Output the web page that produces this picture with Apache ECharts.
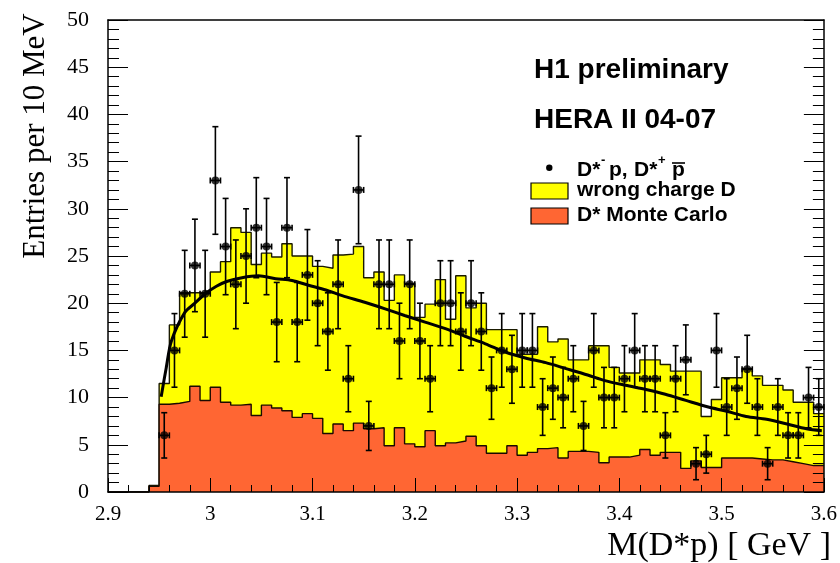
<!DOCTYPE html>
<html><head><meta charset="utf-8">
<script src="https://cdn.jsdelivr.net/npm/echarts@6/dist/echarts.min.js"></script>
<style>html,body{margin:0;padding:0;background:#fff}#c{width:840px;height:563px}</style>
</head><body><div id="c"></div>
<script>
// Bin edges in GeV (10 MeV bins)
const binEdges = [2.90,2.91,2.92,2.93,2.94,2.95,2.96,2.97,2.98,2.99,
  3.00,3.01,3.02,3.03,3.04,3.05,3.06,3.07,3.08,3.09,
  3.10,3.11,3.12,3.13,3.14,3.15,3.16,3.17,3.18,3.19,
  3.20,3.21,3.22,3.23,3.24,3.25,3.26,3.27,3.28,3.29,
  3.30,3.31,3.32,3.33,3.34,3.35,3.36,3.37,3.38,3.39,
  3.40,3.41,3.42,3.43,3.44,3.45,3.46,3.47,3.48,3.49,
  3.50,3.51,3.52,3.53,3.54,3.55,3.56,3.57,3.58,3.59,3.60];

// wrong charge D (yellow histogram), per bin
const wrongChargeD = [0,0,0,0,0.7,11.5,17.7,21.1,21.1,21.1,
  23.3,24.4,28.0,27.5,24.1,25.3,24.9,26.3,25.0,25.0,
  23.9,23.7,25.1,25.2,26.0,22.7,23.3,20.3,23.0,22.1,
  18.5,19.9,22.5,18.3,22.9,19.5,20.0,17.2,17.2,17.2,
  14.6,14.6,17.5,15.9,16.2,14.0,14.0,15.5,15.5,13.2,
  12.6,12.6,14.0,14.0,13.5,12.8,12.8,12.8,8.0,9.8,
  12.1,12.1,13.1,12.3,11.3,11.3,10.8,9.5,9.5,8.3];

// D* Monte Carlo (red histogram), per bin
const dStarMC = [0,0,0,0,0.6,9.3,9.4,9.6,11.2,9.7,
  11.1,9.5,9.2,9.3,8.1,9.2,8.9,8.6,7.9,8.3,
  7.8,6.2,7.2,6.5,7.3,6.7,6.8,4.9,6.8,5.1,
  4.8,6.5,4.9,5.2,5.4,5.9,4.9,4.1,4.1,4.9,
  3.9,4.2,4.6,4.7,3.6,4.3,4.3,4.2,3.1,3.7,
  3.7,3.9,4.5,3.9,4.2,4.2,2.5,3.3,2.6,2.6,
  3.6,3.6,3.6,3.5,3.4,3.4,3.2,3.0,2.8,2.8];

// Data: D*- p, D*+ pbar entries per bin
const dataCounts = [null,null,null,null,null,6,15,21,24,21,
  33,26,22,25,28,26,18,28,18,23,
  20,17,22,12,32,7,22,22,16,22,
  16,12,20,20,17,20,17,11,15,13,
  15,15,9,11,10,12,7,15,10,10,
  12,15,12,12,6,12,14,3,4,15,
  9,11,13,9,3,9,6,6,10,9];
const dataErrors = [null,null,null,null,null,2.4,3.9,4.6,4.9,4.6,
  5.7,5.1,4.7,5.0,5.3,5.1,4.2,5.3,4.2,4.8,
  4.5,4.1,4.7,3.5,5.7,2.6,4.7,4.7,4.0,4.7,
  4.0,3.5,4.5,4.5,4.1,4.5,4.1,3.3,3.9,3.6,
  3.9,3.9,3.0,3.3,3.2,3.5,2.6,3.9,3.2,3.2,
  3.5,3.9,3.5,3.5,2.4,3.5,3.7,1.7,2.0,3.9,
  3.0,3.3,3.6,3.0,1.7,3.0,2.4,2.4,3.2,3.0];

// Fit curve
const fitMass = [2.952,2.957,2.962,2.975,2.985,2.995,3.006,3.016,3.031,3.047,3.064,3.080,3.096,3.113,3.129,
  3.151,3.171,3.190,3.210,3.230,3.249,3.269,3.289,3.308,3.328,3.347,3.369,3.386,3.406,3.426,3.445,3.465,3.487,
  3.505,3.524,3.544,3.564,3.583,3.598];
const fitValue = [10.1,13.2,16.0,19.0,20.0,21.0,21.8,22.3,22.7,22.9,22.6,22.4,21.9,21.4,20.8,
  20.1,19.4,18.7,18.0,17.3,16.5,15.7,14.8,14.2,13.7,13.1,12.4,11.8,11.3,10.85,10.35,9.7,9.0,
  8.55,8.0,7.7,7.2,6.7,6.5];

const xTicks = {min: 2.9, max: 3.6, interval: 0.1};
const yTicks = {min: 0, max: 50, interval: 5};

function stepData(vals) {
  const d = vals.map((v, i) => [binEdges[i], v]);
  d.push([binEdges[vals.length], vals[vals.length - 1]]);
  return d;
}
const pointData = [];
dataCounts.forEach((v, i) => {
  if (v === null) return;
  const c = (binEdges[i] + binEdges[i + 1]) / 2;
  const hw = (binEdges[i + 1] - binEdges[i]) / 2;
  pointData.push([c, v, dataErrors[i], hw]);
});

const serif = 'Liberation Serif, Times New Roman, serif';
const sans = 'Liberation Sans, Arial, Helvetica, sans-serif';
const chart = echarts.init(document.getElementById('c'), null, {renderer: 'canvas'});

const axisLineStyle = {color: '#000', width: 1.5};
chart.setOption({
  animation: false,
  backgroundColor: '#fff',
  grid: {left: 108, right: 16, top: 20, bottom: 71},
  xAxis: [{
    type: 'value', min: xTicks.min, max: xTicks.max, interval: xTicks.interval, z: 10,
    axisLine: {show: true, onZero: false, lineStyle: axisLineStyle},
    axisTick: {show: true, inside: true, length: 14, lineStyle: {color: '#000', width: 1}},
    minorTick: {show: true, splitNumber: 5, length: 7, lineStyle: {color: '#000', width: 1}},
    axisLabel: {color: '#000', fontFamily: serif, fontSize: 21, margin: 12},
    splitLine: {show: false}
  }, {
    type: 'value', position: 'top', min: xTicks.min, max: xTicks.max, z: 10,
    axisLine: {show: true, onZero: false, lineStyle: axisLineStyle},
    axisTick: {show: false}, axisLabel: {show: false}, splitLine: {show: false}
  }],
  yAxis: [{
    type: 'value', min: yTicks.min, max: yTicks.max, interval: yTicks.interval, z: 10,
    axisLine: {show: true, onZero: false, lineStyle: axisLineStyle},
    axisTick: {show: true, inside: true, length: 20, lineStyle: {color: '#000', width: 1}},
    minorTick: {show: true, splitNumber: 5, length: 11, lineStyle: {color: '#000', width: 1}},
    axisLabel: {color: '#000', fontFamily: serif, fontSize: 22, margin: 19},
    splitLine: {show: false}
  }, {
    type: 'value', position: 'right', min: yTicks.min, max: yTicks.max, interval: yTicks.interval, z: 10,
    axisLine: {show: true, onZero: false, lineStyle: axisLineStyle},
    axisTick: {show: true, inside: true, length: 20, lineStyle: {color: '#000', width: 1}},
    minorTick: {show: true, splitNumber: 5, length: 11, lineStyle: {color: '#000', width: 1}},
    axisLabel: {show: false},
    splitLine: {show: false}
  }],
  series: [
    {
      name: 'wrong charge D', type: 'line', step: 'end', data: stepData(wrongChargeD),
      symbol: 'none', z: 2, lineStyle: {color: '#1a1a00', width: 1.4},
      areaStyle: {color: '#ffff00', opacity: 1}
    },
    {
      name: 'D* Monte Carlo', type: 'line', step: 'end', data: stepData(dStarMC),
      symbol: 'none', z: 3, lineStyle: {color: '#1a0a00', width: 1.4},
      areaStyle: {color: '#ff6633', opacity: 1}
    },
    {
      name: 'fit', type: 'line', data: fitMass.map((m, i) => [m, fitValue[i]]),
      symbol: 'none', smooth: 0.3, z: 5, lineStyle: {color: '#000', width: 3}
    },
    {
      name: 'errors', type: 'custom', z: 6, data: pointData,
      renderItem: function (params, api) {
        const x = api.value(0), y = api.value(1), e = api.value(2), hw = api.value(3);
        const t = api.coord([x, y + e]), b = api.coord([x, y - e]);
        const l = api.coord([x - hw, y]), r = api.coord([x + hw, y]);
        const st = {stroke: '#000', lineWidth: 1.6};
        const cap = 3;
        return {type: 'group', children: [
          {type: 'line', shape: {x1: t[0], y1: t[1], x2: b[0], y2: b[1]}, style: st},
          {type: 'line', shape: {x1: t[0] - cap, y1: t[1], x2: t[0] + cap, y2: t[1]}, style: st},
          {type: 'line', shape: {x1: b[0] - cap, y1: b[1], x2: b[0] + cap, y2: b[1]}, style: st},
          {type: 'line', shape: {x1: l[0], y1: l[1], x2: r[0], y2: r[1]}, style: st},
          {type: 'line', shape: {x1: l[0], y1: l[1] - cap, x2: l[0], y2: l[1] + cap}, style: st},
          {type: 'line', shape: {x1: r[0], y1: r[1] - cap, x2: r[0], y2: r[1] + cap}, style: st}
        ]};
      }
    },
    {
      name: 'data', type: 'scatter', z: 7, data: pointData.map(p => [p[0], p[1]]),
      symbol: 'circle', symbolSize: 8, itemStyle: {color: '#000'}
    }
  ],
  graphic: [
    {type: 'text', x: 36, y: 136, rotation: Math.PI / 2,
      style: {text: 'Entries per 10 MeV', font: '31px ' + serif, fill: '#000', textAlign: 'center', textVerticalAlign: 'middle'}},
    {type: 'text', x: 831, y: 546,
      style: {text: 'M(D*p) [ GeV ]', font: '34px ' + serif, fill: '#000', textAlign: 'right', textVerticalAlign: 'middle'}},
    {type: 'text', x: 534, y: 70,
      style: {text: 'H1 preliminary', font: 'bold 28px ' + sans, fill: '#000', textAlign: 'left', textVerticalAlign: 'middle'}},
    {type: 'text', x: 534, y: 120,
      style: {text: 'HERA II 04-07', font: 'bold 28px ' + sans, fill: '#000', textAlign: 'left', textVerticalAlign: 'middle'}},
    {type: 'circle', shape: {cx: 549.3, cy: 167.7, r: 3.2}, style: {fill: '#000'}},
    {type: 'text', x: 577, y: 170, style: {text: 'D*', font: 'bold 21px ' + sans, fill: '#000', textVerticalAlign: 'middle'}},
    {type: 'text', x: 601, y: 160, style: {text: '-', font: 'bold 13px ' + sans, fill: '#000', textVerticalAlign: 'middle'}},
    {type: 'text', x: 609, y: 170, style: {text: 'p,', font: 'bold 21px ' + sans, fill: '#000', textVerticalAlign: 'middle'}},
    {type: 'text', x: 634, y: 170, style: {text: 'D*', font: 'bold 21px ' + sans, fill: '#000', textVerticalAlign: 'middle'}},
    {type: 'text', x: 658, y: 160, style: {text: '+', font: 'bold 13px ' + sans, fill: '#000', textVerticalAlign: 'middle'}},
    {type: 'text', x: 672, y: 170, style: {text: 'p', font: 'bold 21px ' + sans, fill: '#000', textVerticalAlign: 'middle'}},
    {type: 'line', shape: {x1: 672, y1: 163, x2: 685, y2: 163}, style: {stroke: '#000', lineWidth: 1.6}},
    {type: 'rect', shape: {x: 531, y: 183, width: 37, height: 16}, style: {fill: '#ffff00', stroke: '#000', lineWidth: 1.2}},
    {type: 'text', x: 577, y: 190, style: {text: 'wrong charge D', font: 'bold 21px ' + sans, fill: '#000', textVerticalAlign: 'middle'}},
    {type: 'rect', shape: {x: 531, y: 208, width: 37, height: 16}, style: {fill: '#ff6633', stroke: '#000', lineWidth: 1.2}},
    {type: 'text', x: 577, y: 215, style: {text: 'D* Monte Carlo', font: 'bold 21px ' + sans, fill: '#000', textVerticalAlign: 'middle'}}
  ]
});
</script></body></html>
